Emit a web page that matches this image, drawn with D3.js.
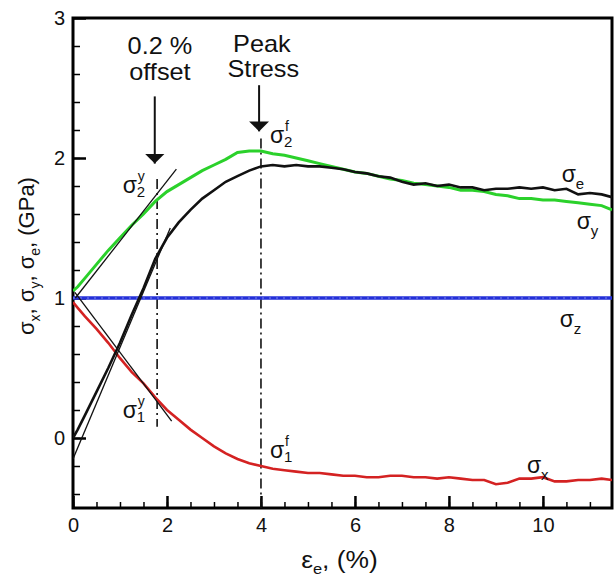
<!DOCTYPE html>
<html>
<head>
<meta charset="utf-8">
<script src="https://cdn.jsdelivr.net/npm/d3@7"></script>
<style>
  body { margin: 0; background: #fff; }
  text { font-family: "Liberation Sans", Arial, sans-serif; fill: #111; }
</style>
</head>
<body>
<div id="chart1"></div>
<script>
// strain grid (%) shared by the three measured curves
var strain = [0, 0.1, 0.25, 0.5, 0.75, 1, 1.25, 1.5, 1.75, 2, 2.25, 2.5, 2.75, 3, 3.25, 3.5, 3.75, 4,
  4.25, 4.5, 4.75, 5, 5.25, 5.5, 5.75, 6, 6.25, 6.5, 6.75, 7, 7.25, 7.5, 7.75, 8, 8.25, 8.5, 8.75,
  9, 9.25, 9.5, 9.75, 10, 10.25, 10.5, 10.75, 11, 11.25, 11.47];

var sigmaE = [0.0, 0.06, 0.16, 0.33, 0.5, 0.68, 0.88, 1.07, 1.28, 1.43, 1.54, 1.63, 1.71, 1.77, 1.83, 1.87,
  1.91, 1.94, 1.95, 1.94, 1.95, 1.94, 1.94, 1.93, 1.92, 1.9, 1.89, 1.87, 1.86, 1.83, 1.81, 1.82, 1.8,
  1.81, 1.79, 1.79, 1.77, 1.78, 1.78, 1.79, 1.78, 1.79, 1.77, 1.78, 1.74, 1.75, 1.74, 1.72];

var sigmaY = [1.05, 1.08, 1.14, 1.24, 1.34, 1.43, 1.52, 1.6, 1.69, 1.76, 1.81, 1.86, 1.91, 1.95, 1.99, 2.04,
  2.05, 2.05, 2.03, 2.02, 2.0, 1.98, 1.96, 1.94, 1.92, 1.9, 1.89, 1.87, 1.85, 1.84, 1.82, 1.81, 1.8,
  1.79, 1.77, 1.77, 1.76, 1.74, 1.73, 1.71, 1.71, 1.7, 1.7, 1.69, 1.68, 1.67, 1.66, 1.63];

var sigmaX = [0.97, 0.93, 0.87, 0.78, 0.68, 0.57, 0.47, 0.39, 0.29, 0.2, 0.13, 0.06, 0.0, -0.06, -0.11, -0.15,
  -0.18, -0.2, -0.22, -0.23, -0.24, -0.25, -0.25, -0.26, -0.27, -0.27, -0.28, -0.28, -0.27, -0.27, -0.28,
  -0.28, -0.29, -0.28, -0.29, -0.3, -0.3, -0.33, -0.32, -0.29, -0.29, -0.28, -0.31, -0.31, -0.3, -0.3, -0.29, -0.3];

var strainZ = [0, 11.47];
var sigmaZ = [1.0, 1.0];

// thin tangent / offset lines (start, end)
var tangentX = [[0.05, 2.2], [0.04, 2.1], [0.0, 2.07]];
var tangentY = [[1.0, 1.92], [1.04, 0.12], [-0.15, 1.5]];

// dash-dot markers
var markerX = [1.79, 4.0];
var markerTop = [1.85, 2.14];
var markerBottom = [0.08, -0.5];

// arrows
var arrowX = [1.74, 3.96];
var arrowFrom = [2.44, 2.52];
var arrowTo = [1.96, 2.19];

var xTicks = [0, 2, 4, 6, 8, 10];
var yTicks = [0, 1, 2, 3];

var margin = {top: 18, right: 2, bottom: 69, left: 73},
    width = 614 - margin.left - margin.right,
    height = 577 - margin.top - margin.bottom;

var svg = d3.select("#chart1")
  .append("svg")
  .attr("width", 614)
  .attr("height", 577)
  .append("g")
  .attr("transform", "translate(" + margin.left + "," + margin.top + ")");

var x = d3.scaleLinear().domain([0, 11.47]).range([0, width]);
var y = d3.scaleLinear().domain([-0.5, 3]).range([height, 0]);

// minor ticks
svg.append("g")
  .attr("transform", "translate(0," + height + ")")
  .call(d3.axisBottom(x).tickValues(d3.range(0, 11.5, 0.5)).tickSize(-6).tickFormat(""))
  .call(g => g.select(".domain").remove())
  .selectAll("line").attr("stroke-width", 1.5);
svg.append("g")
  .call(d3.axisLeft(y).tickValues(d3.range(-0.4, 3, 0.2)).tickSize(-7).tickFormat(""))
  .call(g => g.select(".domain").remove())
  .selectAll("line").attr("stroke-width", 1.5);

// major ticks
var xg = svg.append("g")
  .attr("transform", "translate(0," + height + ")")
  .call(d3.axisBottom(x).tickValues(xTicks).tickSize(-12).tickPadding(10).tickFormat(d3.format("d")));
xg.select(".domain").remove();
xg.selectAll("line").attr("stroke-width", 2.5);
xg.selectAll("text").style("font-size", "20px").attr("font-family", null);

var yg = svg.append("g")
  .call(d3.axisLeft(y).tickValues(yTicks).tickSize(-13).tickPadding(8).tickFormat(d3.format("d")));
yg.select(".domain").remove();
yg.selectAll("line").attr("stroke-width", 2.5);
yg.selectAll("text").style("font-size", "20px").attr("font-family", null);

// frame
svg.append("rect")
  .attr("x", 0).attr("y", 0)
  .attr("width", width).attr("height", height)
  .attr("fill", "none")
  .attr("stroke", "#000")
  .attr("stroke-width", 3);

var clip = svg.append("clipPath").attr("id", "plotclip")
  .append("rect").attr("width", width).attr("height", height);
var plot = svg.append("g").attr("clip-path", "url(#plotclip)");

// dash-dot markers
plot.selectAll(".marker")
  .data(markerX)
  .join("line")
  .attr("x1", d => x(d)).attr("x2", d => x(d))
  .attr("y1", (d, i) => y(markerTop[i]))
  .attr("y2", (d, i) => y(markerBottom[i]))
  .attr("stroke", "#111")
  .attr("stroke-width", 1.6)
  .attr("stroke-dasharray", "10,4,2,4");

// sigma z
var zLine = d3.line().x(d => x(d[0])).y(d => y(d[1]));
plot.append("path")
  .attr("d", zLine(strainZ.map((d, i) => [d, sigmaZ[i]])))
  .attr("fill", "none")
  .attr("stroke", "#2430d8")
  .attr("stroke-width", 3.5);
plot.append("path")
  .attr("d", zLine(strainZ.map((d, i) => [d, sigmaZ[i]])))
  .attr("fill", "none")
  .attr("stroke", "#7f88ee")
  .attr("stroke-width", 1.2)
  .attr("stroke-dasharray", "2,5");

var curve = d3.line().x((d, i) => x(strain[i])).y(d => y(d));

plot.append("path").datum(sigmaX)
  .attr("d", curve).attr("fill", "none")
  .attr("stroke", "#d42222").attr("stroke-width", 2.6);
plot.append("path").datum(sigmaY)
  .attr("d", curve).attr("fill", "none")
  .attr("stroke", "#2bd12b").attr("stroke-width", 3);
plot.append("path").datum(sigmaE)
  .attr("d", curve).attr("fill", "none")
  .attr("stroke", "#111").attr("stroke-width", 2.6);

// tangent lines
plot.selectAll(".tangent")
  .data(tangentX)
  .join("line")
  .attr("x1", d => x(d[0])).attr("x2", d => x(d[1]))
  .attr("y1", (d, i) => y(tangentY[i][0]))
  .attr("y2", (d, i) => y(tangentY[i][1]))
  .attr("stroke", "#111")
  .attr("stroke-width", 1.3);

// arrows
svg.append("defs").append("marker")
  .attr("id", "head")
  .attr("viewBox", "0 0 10 20")
  .attr("refX", 10).attr("refY", 10)
  .attr("markerUnits", "userSpaceOnUse")
  .attr("markerWidth", 10).attr("markerHeight", 20)
  .attr("orient", "auto")
  .append("path")
  .attr("d", "M0,0 L10,10 L0,20 Z")
  .attr("fill", "#111");

svg.selectAll(".arrow")
  .data(arrowX)
  .join("line")
  .attr("x1", d => x(d)).attr("x2", d => x(d))
  .attr("y1", (d, i) => y(arrowFrom[i]))
  .attr("y2", (d, i) => y(arrowTo[i]))
  .attr("stroke", "#111")
  .attr("stroke-width", 2)
  .attr("marker-end", "url(#head)");

// annotation text (slightly widened like the source figure)
function note(t, xv, yv) {
  svg.append("text")
    .attr("transform", "translate(" + x(xv) + "," + y(yv) + ") scale(1.1,1)")
    .attr("text-anchor", "middle")
    .style("font-size", "23px")
    .text(t);
}
note("0.2 %", 1.85, 2.74);
note("offset", 1.85, 2.56);
note("Peak", 4.02, 2.76);
note("Stress", 4.05, 2.58);

// sigma labels: [strain, stress, subscript, superscript]
var sigmaLabels = [
  [1.06, 1.75, "2", "y"],
  [4.19, 2.11, "2", "f"],
  [1.06, 0.14, "1", "y"],
  [4.19, -0.14, "1", "f"],
  [10.4, 1.83, "e", ""],
  [10.72, 1.49, "y", ""],
  [10.36, 0.79, "z", ""],
  [9.66, -0.25, "x", ""]
];
sigmaLabels.forEach(function(d) {
  var g = svg.append("g").attr("transform", "translate(" + x(d[0]) + "," + y(d[1]) + ")");
  g.append("text").style("font-size", "23px").text("σ");
  var sub = g.append("text").attr("x", 14).style("font-size", "15px").text(d[2]);
  if (d[3]) {
    sub.attr("y", 4);
    g.append("text").attr("x", 15).attr("y", -12).style("font-size", "14px").text(d[3]);
  } else {
    sub.attr("y", 7);
  }
});

// axis titles
var xt = svg.append("text")
  .attr("transform", "translate(" + (width / 2 - 3) + "," + (height + 60) + ") scale(1.1,1)")
  .attr("text-anchor", "middle")
  .style("font-size", "24px");
xt.append("tspan").text("ε");
xt.append("tspan").attr("dy", 6).style("font-size", "15px").text("e");
xt.append("tspan").attr("dy", -6).text(",  (%)");

var yt = svg.append("text")
  .attr("transform", "translate(" + (34 - margin.left) + "," + (y(1.3)) + ") rotate(-90)")
  .attr("text-anchor", "middle")
  .style("font-size", "22px");
yt.append("tspan").text("σ");
yt.append("tspan").attr("dy", 6).style("font-size", "14px").text("x");
yt.append("tspan").attr("dy", -6).text(", σ");
yt.append("tspan").attr("dy", 6).style("font-size", "14px").text("y");
yt.append("tspan").attr("dy", -6).text(", σ");
yt.append("tspan").attr("dy", 6).style("font-size", "14px").text("e");
yt.append("tspan").attr("dy", -6).text(", (GPa)");
</script>
</body>
</html>
